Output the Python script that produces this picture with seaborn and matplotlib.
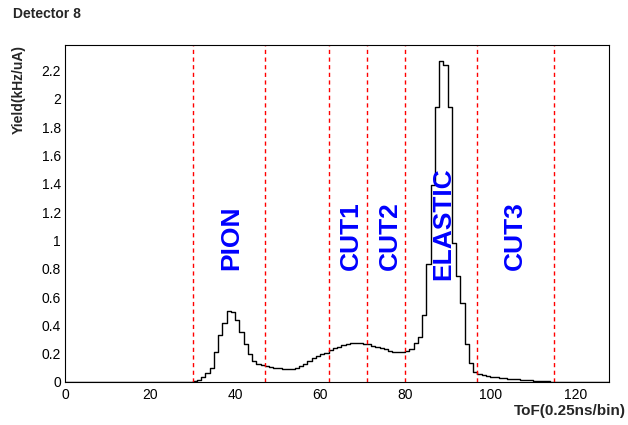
import numpy as np
import matplotlib
matplotlib.use("Agg")
import matplotlib.pyplot as plt
import seaborn as sns
from matplotlib.ticker import MultipleLocator, FormatStrFormatter

# ToF bins (1 unit each, 0..128) and yields in kHz/uA
bin_edges = list(range(0, 129))
yields = (
    [0.0] * 25
    + [0.0005, 0.001, 0.001, 0.002, 0.002,                       # 25-29
       0.004, 0.014, 0.033, 0.06, 0.10, 0.21, 0.33, 0.42, 0.50, 0.495,  # 30-39
       0.44, 0.35, 0.27, 0.20, 0.15, 0.13, 0.12, 0.11, 0.105, 0.10,   # 40-49
       0.097, 0.094, 0.093, 0.095, 0.10, 0.113, 0.13, 0.148, 0.167, 0.183,  # 50-59
       0.197, 0.207, 0.225, 0.237, 0.249, 0.26, 0.268, 0.272, 0.277, 0.277,  # 60-69
       0.27, 0.268, 0.256, 0.249, 0.242, 0.232, 0.22, 0.213, 0.211, 0.213,   # 70-79
       0.22, 0.232, 0.272, 0.32, 0.47, 0.83, 1.39, 1.94, 2.27, 2.24,        # 80-89
       1.94, 0.98, 0.75, 0.56, 0.27, 0.136, 0.073, 0.055, 0.048, 0.042,     # 90-99
       0.037, 0.033, 0.029, 0.026, 0.023, 0.021, 0.018, 0.016, 0.013, 0.011,  # 100-109
       0.009, 0.007, 0.005, 0.004, 0.003, 0.002, 0.001]                    # 110-116
)
yields += [0.0] * (128 - len(yields))

cut_lines = [30, 47, 62, 71, 80, 97, 115]
region_names = ["PION", "CUT1", "CUT2", "ELASTIC", "CUT3"]
region_x = [39.1, 67.3, 76.5, 89.0, 105.9]
region_y = [0.79, 0.79, 0.79, 0.72, 0.79]

sns.set_style("white")
plt.rcParams["font.family"] = ["Liberation Sans", "DejaVu Sans"]

fig = plt.figure(figsize=(6.28, 4.25), dpi=100)
ax = fig.add_axes([0.1035, 0.1012, 0.8665, 0.7928])

centers = np.array(bin_edges[:-1]) + 0.5
sns.histplot(x=centers, weights=yields, bins=bin_edges, element="step",
             fill=False, color="black", linewidth=1.0, ax=ax)

ymax = 2.38
for xc in cut_lines:
    ax.axvline(xc, color="red", linestyle=(0, (3, 2.5)), linewidth=1.0)

for name, xt, yt in zip(region_names, region_x, region_y):
    ax.text(xt, yt, name, rotation=90, color="#0000ff", fontsize=19,
            fontweight="bold", ha="center", va="bottom")

ax.set_xlim(0, 128)
ax.set_ylim(0, ymax)
ax.xaxis.set_major_locator(MultipleLocator(20))
ax.xaxis.set_minor_locator(MultipleLocator(5))
ax.yaxis.set_major_locator(MultipleLocator(0.2))
ax.yaxis.set_minor_locator(MultipleLocator(0.04))
ax.yaxis.set_major_formatter(FormatStrFormatter("%g"))

ax.tick_params(axis="x", which="major", direction="in", length=8.5, width=0.8,
               labelsize=10, pad=4, colors="black")
ax.tick_params(axis="x", which="minor", direction="in", length=4.3, width=0.8)
ax.tick_params(axis="y", which="major", direction="in", length=9.4, width=0.8,
               labelsize=10, pad=3, colors="black")
ax.tick_params(axis="y", which="minor", direction="in", length=4.7, width=0.8)
for sp in ax.spines.values():
    sp.set_color("black")
    sp.set_linewidth(0.8)

ax.set_xlabel("")
ax.set_ylabel("")
fig.text(0.997, 0.032, "ToF(0.25ns/bin)", ha="right", va="center",
         fontsize=11, fontweight="bold")
fig.text(0.03, 0.894, "Yield(kHz/uA)", rotation=90, ha="center", va="top",
         fontsize=10, fontweight="bold")
fig.text(0.021, 0.967, "Detector 8", ha="left", va="center",
         fontsize=10, fontweight="bold")

fig.savefig("out.png", dpi=100)
